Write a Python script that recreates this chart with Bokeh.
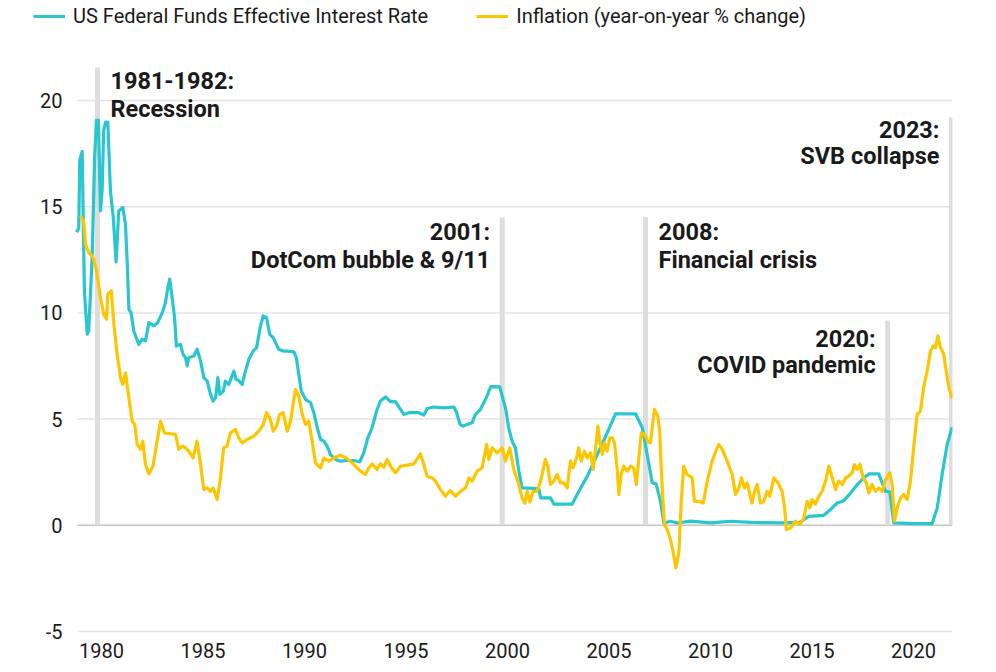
from bokeh.plotting import figure
from bokeh.models import ColumnDataSource, FixedTicker, Legend, LegendItem, Range1d
from bokeh.core.properties import value
from bokeh.embed import file_html
from bokeh.resources import INLINE

# ---------------- data ----------------
fed_year = [1978.77, 1978.88, 1978.93, 1979.05, 1979.10, 1979.16, 1979.30, 1979.37, 1979.54, 1979.66,
            1979.75, 1979.85, 1979.95, 1980.03, 1980.11, 1980.20, 1980.31, 1980.44, 1980.58, 1980.72,
            1980.85, 1981.05, 1981.18, 1981.27, 1981.35, 1981.46, 1981.59, 1981.84, 1982.00, 1982.17,
            1982.33, 1982.58, 1982.77, 1982.99, 1983.15, 1983.27, 1983.36, 1983.48, 1983.60, 1983.69,
            1983.89, 1984.02, 1984.14, 1984.22, 1984.30, 1984.55, 1984.71, 1984.88, 1985.04, 1985.21,
            1985.37, 1985.50, 1985.62, 1985.73, 1985.83, 1986.00, 1986.10, 1986.27, 1986.40, 1986.52,
            1986.63, 1986.76, 1986.93, 1987.09, 1987.26, 1987.47, 1987.64, 1987.83, 1987.97, 1988.13,
            1988.29, 1988.46, 1988.73, 1988.98, 1989.15, 1989.47, 1989.60, 1989.72, 1989.84, 1990.05,
            1990.30, 1990.46, 1990.63, 1990.79, 1990.95, 1991.12, 1991.28, 1991.53, 1991.77, 1992.10,
            1992.43, 1992.72, 1992.92, 1993.12, 1993.33, 1993.55, 1993.74, 1993.99, 1994.24, 1994.48,
            1994.73, 1994.89, 1995.14, 1995.39, 1995.63, 1995.88, 1996.05, 1996.37, 1996.87, 1997.36,
            1997.50, 1997.66, 1997.82, 1998.10, 1998.26, 1998.42, 1998.67, 1998.92, 1999.18, 1999.62,
            1999.74, 1999.90, 2000.06, 2000.23, 2000.39, 2000.56, 2000.72, 2001.54, 2001.63, 2002.12,
            2002.28, 2003.19, 2003.43, 2003.93, 2004.42, 2004.91, 2005.32, 2006.31, 2006.64, 2006.88,
            2007.13, 2007.32, 2007.54, 2007.70, 2008.03, 2008.36, 2009.00, 2010.00, 2011.00, 2012.00,
            2013.45, 2014.40, 2014.84, 2015.58, 2015.91, 2016.24, 2016.57, 2016.90, 2017.23, 2017.55,
            2017.80, 2018.29, 2018.46, 2018.62, 2018.83, 2019.03, 2020.02, 2020.92, 2021.17, 2021.41,
            2021.66, 2021.90]
fed_rate = [13.8, 14.0, 17.2, 17.6, 14.5, 11.0, 9.0, 9.15, 12.6, 17.3,
            19.06, 19.06, 14.8, 15.75, 18.6, 18.98, 18.98, 15.75, 14.5, 12.4,
            14.8, 14.97, 14.2, 12.3, 10.17, 10.0, 9.15, 8.52, 8.76, 8.68,
            9.54, 9.39, 9.54, 10.0, 10.49, 11.2, 11.59, 10.72, 9.78, 8.44,
            8.52, 8.05, 7.89, 7.5, 7.89, 7.97, 8.29, 7.74, 6.95, 6.79,
            6.16, 5.85, 6.0, 6.95, 6.16, 6.32, 6.79, 6.63, 6.95, 7.26,
            6.87, 6.82, 6.63, 7.26, 7.82, 8.2, 8.36, 9.39, 9.86, 9.78,
            8.99, 8.83, 8.29, 8.2, 8.2, 8.17, 7.89, 7.1, 6.32, 5.93,
            5.77, 5.3, 4.59, 4.04, 3.96, 3.73, 3.33, 3.1, 3.02, 3.05,
            3.05, 2.99, 3.41, 4.12, 4.59, 5.38, 5.85, 6.04, 5.82, 5.82,
            5.46, 5.22, 5.3, 5.3, 5.3, 5.19, 5.5, 5.57, 5.53, 5.57,
            5.3, 4.75, 4.67, 4.78, 4.83, 5.22, 5.46, 5.93, 6.53, 6.52,
            6.08, 5.53, 4.59, 3.96, 3.65, 2.55, 1.76, 1.73, 1.29, 1.29,
            1.0, 1.0, 1.45, 2.31, 3.33, 4.35, 5.25, 5.25, 4.59, 3.33,
            2.0, 1.95, 1.13, 0.11, 0.19, 0.11, 0.2, 0.11, 0.19, 0.14,
            0.11, 0.14, 0.42, 0.47, 0.74, 1.05, 1.16, 1.52, 1.92, 2.23,
            2.42, 2.42, 2.0, 1.6, 1.57, 0.11, 0.08, 0.08, 0.82, 2.39,
            3.81, 4.62]

infl_year = [1978.97, 1979.13, 1979.21, 1979.37, 1979.59, 1979.75, 1979.95, 1980.11, 1980.25, 1980.31,
             1980.48, 1980.61, 1980.77, 1980.94, 1981.05, 1981.18, 1981.35, 1981.51, 1981.64, 1981.76,
             1981.92, 1982.03, 1982.17, 1982.33, 1982.54, 1982.71, 1982.91, 1983.10, 1983.40, 1983.65,
             1983.81, 1983.98, 1984.14, 1984.30, 1984.51, 1984.71, 1984.88, 1985.04, 1985.21, 1985.37,
             1985.50, 1985.70, 1985.86, 1986.02, 1986.19, 1986.35, 1986.60, 1986.76, 1986.93, 1987.18,
             1987.50, 1987.75, 1987.97, 1988.13, 1988.29, 1988.46, 1988.62, 1988.78, 1988.95, 1989.15,
             1989.31, 1989.56, 1989.72, 1989.89, 1990.05, 1990.21, 1990.38, 1990.54, 1990.79, 1990.95,
             1991.20, 1991.44, 1991.77, 1992.10, 1992.43, 1992.76, 1993.00, 1993.17, 1993.33, 1993.58,
             1993.74, 1993.91, 1994.07, 1994.29, 1994.48, 1994.73, 1995.06, 1995.39, 1995.71, 1995.88,
             1996.04, 1996.29, 1996.45, 1996.70, 1996.95, 1997.19, 1997.44, 1997.68, 1997.93, 1998.10,
             1998.26, 1998.50, 1998.75, 1998.97, 1999.08, 1999.25, 1999.49, 1999.74, 1999.90, 2000.11,
             2000.31, 2000.56, 2000.72, 2000.85, 2000.97, 2001.10, 2001.26, 2001.46, 2001.63, 2001.87,
             2001.98, 2002.12, 2002.28, 2002.45, 2002.61, 2002.77, 2002.94, 2003.10, 2003.23, 2003.40,
             2003.51, 2003.63, 2003.79, 2003.93, 2004.09, 2004.22, 2004.38, 2004.45, 2004.55, 2004.67,
             2004.78, 2004.91, 2005.04, 2005.16, 2005.27, 2005.40, 2005.48, 2005.60, 2005.73, 2005.90,
             2006.06, 2006.22, 2006.35, 2006.47, 2006.59, 2006.75, 2006.91, 2007.04, 2007.13, 2007.24,
             2007.40, 2007.50, 2007.57, 2007.67, 2007.73, 2007.87, 2008.03, 2008.16, 2008.29, 2008.44,
             2008.56, 2008.68, 2008.85, 2009.10, 2009.21, 2009.42, 2009.64, 2009.84, 2010.08, 2010.30,
             2010.41, 2010.58, 2010.82, 2011.07, 2011.23, 2011.40, 2011.53, 2011.67, 2011.81, 2011.94,
             2012.05, 2012.17, 2012.30, 2012.46, 2012.63, 2012.79, 2012.92, 2013.12, 2013.32, 2013.53,
             2013.65, 2013.74, 2013.94, 2014.19, 2014.40, 2014.60, 2014.76, 2014.89, 2015.01, 2015.17,
             2015.34, 2015.50, 2015.67, 2015.83, 2016.00, 2016.16, 2016.32, 2016.49, 2016.65, 2016.81,
             2016.98, 2017.09, 2017.23, 2017.36, 2017.52, 2017.68, 2017.80, 2017.96, 2018.13, 2018.29,
             2018.46, 2018.62, 2018.83, 2018.95, 2019.06, 2019.20, 2019.36, 2019.52, 2019.69, 2019.85,
             2020.01, 2020.18, 2020.34, 2020.50, 2020.67, 2020.84, 2020.97, 2021.08, 2021.20, 2021.33,
             2021.49, 2021.66, 2021.77, 2021.90]
infl_rate = [14.58, 14.26, 13.24, 12.85, 12.61, 11.98, 10.72, 9.94, 9.7, 10.88,
             11.04, 9.47, 8.05, 6.95, 6.63, 7.18, 6.0, 4.9, 4.75, 3.81,
             3.57, 3.96, 2.86, 2.42, 2.78, 3.81, 4.9, 4.35, 4.31, 4.28,
             3.57, 3.73, 3.65, 3.49, 3.17, 3.96, 2.86, 1.68, 1.76, 1.6,
             1.76, 1.21, 2.23, 3.65, 3.73, 4.35, 4.51, 4.12, 3.88, 4.04,
             4.2, 4.43, 4.75, 5.3, 5.06, 4.43, 4.67, 5.22, 5.3, 4.43,
             4.9, 6.4, 6.08, 5.22, 4.75, 4.9, 3.96, 2.94, 2.7, 3.17,
             3.02, 3.17, 3.3, 3.15, 2.86, 2.55, 2.39, 2.7, 2.89, 2.63,
             2.89, 2.74, 3.1, 2.7, 2.47, 2.78, 2.83, 2.89, 3.36, 2.86,
             2.31, 2.23, 2.08, 1.68, 1.37, 1.64, 1.37, 1.6, 1.76, 2.23,
             2.08, 2.55, 2.7, 3.81, 3.1, 3.65, 3.41, 3.65, 3.02, 3.65,
             2.63, 1.92, 1.29, 1.05, 1.6, 1.1, 1.6, 1.6, 2.08, 3.1,
             2.78, 1.92, 2.08, 2.39, 2.0, 2.0, 1.76, 3.02, 2.7, 3.17,
             3.65, 3.02, 3.49, 3.17, 3.41, 2.63, 3.96, 4.67, 3.96, 3.33,
             3.88, 3.49, 4.12, 4.12, 3.88, 2.7, 1.45, 2.39, 2.78, 2.55,
             2.78, 2.7, 1.92, 3.17, 4.35, 4.28, 3.96, 3.88, 4.59, 5.46,
             5.14, 4.43, 2.7, 0.98, 0.03, -0.2, -0.68, -1.23, -2.01, -1.31,
             1.13, 2.78, 2.39, 2.23, 1.13, 1.13, 1.05, 2.08, 3.02, 3.57,
             3.81, 3.57, 3.02, 2.39, 1.45, 1.76, 2.23, 1.76, 2.0, 1.45,
             1.05, 1.6, 1.92, 1.05, 1.13, 1.6, 1.37, 2.23, 2.0, 1.6,
             0.82, -0.2, -0.13, 0.19, 0.03, 0.34, 1.13, 0.82, 1.21, 1.0,
             1.37, 1.6, 2.08, 2.78, 2.23, 1.68, 2.08, 1.92, 2.23, 2.31,
             2.47, 2.86, 2.63, 2.89, 2.23, 2.0, 1.52, 1.92, 1.6, 1.76,
             1.6, 2.15, 2.47, 1.92, 0.19, 0.82, 1.29, 1.45, 1.21, 2.08,
             3.65, 5.22, 5.38, 6.48, 7.26, 8.2, 8.44, 8.36, 8.92, 8.36,
             8.05, 6.95, 6.4, 5.98]

event_year = [1979.80, 1999.74, 2006.80, 2018.73, 2021.87]
event_top = [21.55, 14.49, 14.50, 9.64, 19.21]
event_line1 = ["1981-1982:", "2001:", "2008:", "2020:", "2023:"]
event_line2 = ["Recession", "DotCom bubble & 9/11", "Financial crisis", "COVID pandemic", "SVB collapse"]

x_ticks = [1980, 1985, 1990, 1995, 2000, 2005, 2010, 2015, 2020]
y_ticks = [-5, 0, 5, 10, 15, 20]
y_tick_labels = ["-5", "0", "5", "10", "15", "20"]

series_names = ["US Federal Funds Effective Interest Rate", "Inflation (year-on-year % change)"]

# ---------------- styling / layout ----------------
TEAL = "#2ac6d0"
GOLD = "#fcc700"
BAR = "#dddddd"
GRID = "#e4e4e4"
ZERO = "#c4c4c4"
TXT = "#1a1a1a"
FONT = "Roboto"

X_START, X_END = 1975.025, 2021.921     # frame extent (frame spans legend area too)
GRID_START, GRID_END = 1978.818, 2021.921
Y_START, Y_END = -5.471, 24.708

label_align = ["left", "right", "left", "right", "right"]
label_y1 = [20.94, 13.79, 13.79, 8.79, 18.63]
label_y2 = [19.62, 12.47, 12.47, 7.53, 17.39]

p = figure(width=990, height=670,
           min_border_left=0, min_border_right=38, min_border_top=0, min_border_bottom=29,
           x_range=Range1d(X_START, X_END), y_range=Range1d(Y_START, Y_END),
           y_axis_location=None,
           output_backend="svg", toolbar_location=None)
p.outline_line_color = None
p.background_fill_color = "white"
p.border_fill_color = "white"
p.xgrid.grid_line_color = None
p.ygrid.grid_line_color = None

p.xaxis.ticker = FixedTicker(ticks=x_ticks)
p.xaxis.axis_line_color = None
p.xaxis.major_tick_line_color = None
p.xaxis.minor_tick_line_color = None
p.xaxis.major_label_text_font = FONT
p.xaxis.major_label_text_font_size = "20px"
p.xaxis.major_label_text_color = TXT
p.xaxis.major_label_standoff = -5

# horizontal grid lines (zero line darker)
grid_src = ColumnDataSource(dict(
    x0=[GRID_START] * len(y_ticks), x1=[GRID_END] * len(y_ticks), y=y_ticks,
    c=[ZERO if t == 0 else GRID for t in y_ticks]))
p.segment(x0="x0", y0="y", x1="x1", y1="y", source=grid_src, line_color="c", line_width=1.5)

# y tick labels
p.text(x=[GRID_START] * len(y_ticks), y=y_ticks, text=y_tick_labels, x_offset=-15,
       text_align="right", text_baseline="middle", text_font=value(FONT),
       text_font_size="20px", text_color=TXT)

# event bars
bars = ColumnDataSource(dict(x=event_year, y0=[0] * len(event_year), y1=event_top))
p.segment(x0="x", y0="y0", x1="x", y1="y1", source=bars, line_color=BAR, line_width=5)

# lines
r_fed = p.line(fed_year, fed_rate, line_color=TEAL, line_width=3.2, line_join="round")
r_inf = p.line(infl_year, infl_rate, line_color=GOLD, line_width=3.2, line_join="round")

# annotations
for align, off in (("left", 13), ("right", -12)):
    idx = [i for i, a in enumerate(label_align) if a == align]
    xs = [event_year[i] for i in idx]
    src = ColumnDataSource(dict(
        x=xs + xs,
        y=[label_y1[i] for i in idx] + [label_y2[i] for i in idx],
        t=[event_line1[i] for i in idx] + [event_line2[i] for i in idx]))
    p.text(x="x", y="y", text="t", source=src, x_offset=off,
           text_align=align, text_baseline="middle",
           text_font=value(FONT), text_font_style="bold",
           text_font_size="23.5px", text_color=TXT)

legend = Legend(items=[LegendItem(label=series_names[0], renderers=[r_fed]),
                       LegendItem(label=series_names[1], renderers=[r_inf])],
                orientation="horizontal", location=(33, 613),
                padding=0, margin=0, spacing=48, label_standoff=8,
                glyph_width=32, glyph_height=20,
                label_text_font=FONT, label_text_font_size="20px", label_text_color=TXT,
                background_fill_alpha=0, border_line_color=None)
p.add_layout(legend, "center")

open("out.html", "w").write(file_html(p, INLINE))
